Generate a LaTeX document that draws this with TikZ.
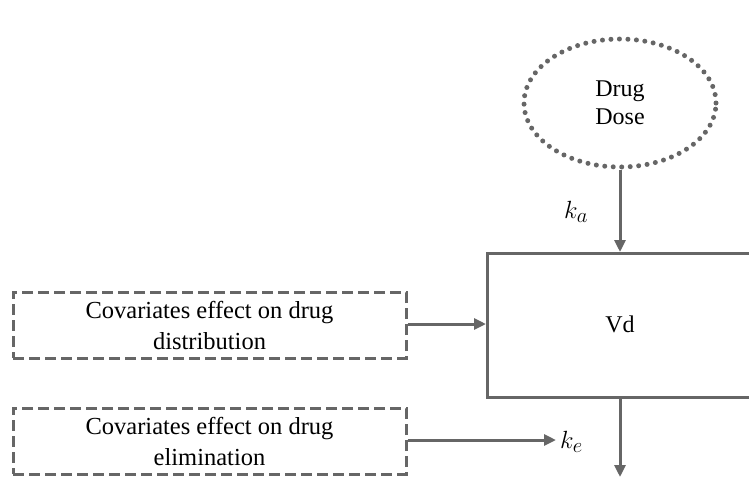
\documentclass[tikz,border=0pt]{standalone}
\usepackage{fontspec}
\setmainfont{Liberation Serif}
\usetikzlibrary{arrows.meta,shapes.geometric}
\definecolor{lg}{HTML}{666666}
\tikzset{
  conn/.style={draw=lg, line width=3pt, -{Triangle[length=12pt,width=11pt]}},
  covbox/.style={draw=lg, line width=3pt, dash pattern=on 11pt off 5pt, minimum width=393pt, minimum height=66pt, align=center, inner sep=0pt, font=\fontsize{24.5}{31}\selectfont},
  lbl/.style={font=\fontsize{28}{30}\selectfont, inner sep=0pt}
}
\begin{document}
\begin{tikzpicture}[x=1pt,y=-1pt]
\useasboundingbox (0,0) rectangle (749,483);
\node[ellipse, draw=lg, line width=5pt, line cap=round, dash pattern=on 0pt off 8.5pt, minimum width=192pt, minimum height=128pt, align=center, font=\fontsize{24}{28}\selectfont] (dose) at (620,103) {Drug\\Dose};
\node[draw=lg, line width=3pt, minimum width=280pt, minimum height=144pt, anchor=north west, inner sep=0pt] (vd) at (486,252) {};
\node[font=\fontsize{24}{28}\selectfont] (vdt) at (620,324) {Vd};
\node[covbox] (c1) at (209.5,325) {Covariates effect on drug\\distribution};
\node[covbox] (c2) at (209.5,441) {Covariates effect on drug\\elimination};
\coordinate (vdtop) at (620,252);
\coordinate (vdleft) at (486,324);
\coordinate (vdbot) at (620,396);
\coordinate (out) at (620,477);
\coordinate (keend) at (556,440);
\node[lbl] (ka) at (576,212) {$k_a$};
\node[lbl, anchor=west] (ke) at (560,442) {$k_e$};
\draw[conn] (dose.south) -- (vdtop);
\draw[conn] (c1.east |- vdleft) -- (vdleft);
\draw[conn] (c2.east |- keend) -- (keend);
\draw[conn] (vdbot) -- (out);
\end{tikzpicture}
\end{document}
